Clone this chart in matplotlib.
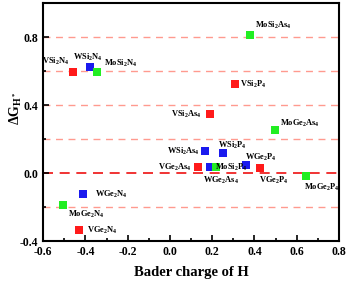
import matplotlib
matplotlib.use("Agg")
import matplotlib.pyplot as plt
from matplotlib.ticker import MultipleLocator

plt.rcParams["font.family"] = ["Liberation Serif", "DejaVu Serif"]
plt.rcParams["font.weight"] = "bold"
plt.rcParams["mathtext.fontset"] = "custom"
plt.rcParams["mathtext.rm"] = "Liberation Serif:bold"
plt.rcParams["mathtext.it"] = "Liberation Serif:bold"
plt.rcParams["mathtext.bf"] = "Liberation Serif:bold"

# compound, Bader charge of H, dG_H*
names = [
    "VSi2N4", "WSi2N4", "MoSi2N4", "MoSi2As4", "VSi2P4", "VSi2As4", "MoGe2As4",
    "WGe2N4", "MoGe2N4", "VGe2N4", "WSi2As4", "WSi2P4", "VGe2As4", "WGe2As4",
    "MoSi2P4", "WGe2P4", "VGe2P4", "MoGe2P4",
]
bader = [
    -0.458, -0.378, -0.345, 0.381, 0.310, 0.188, 0.499,
    -0.411, -0.505, -0.430, 0.164, 0.249, 0.131, 0.188,
    0.216, 0.362, 0.424, 0.645,
]
dg = [
    0.594, 0.624, 0.594, 0.812, 0.524, 0.347, 0.253,
    -0.124, -0.188, -0.335, 0.129, 0.118, 0.035, 0.035,
    0.035, 0.047, 0.030, -0.018,
]
metal = ["V", "W", "Mo", "Mo", "V", "V", "Mo",
         "W", "Mo", "V", "W", "W", "V", "W",
         "Mo", "W", "V", "Mo"]

colors = {"V": "#ff1a1a", "W": "#1a1aee", "Mo": "#22ee22"}

# label offsets (pixels) and horizontal alignment
label_pos = {
    "VSi2N4": (-4, 11, "right"),
    "WSi2N4": (-2, 10, "center"),
    "MoSi2N4": (7, 9, "left"),
    "MoSi2As4": (5, 10, "left"),
    "VSi2P4": (5, 0, "left"),
    "VSi2As4": (-8, 0, "right"),
    "MoGe2As4": (5, 7, "left"),
    "WGe2N4": (12, 0, "left"),
    "MoGe2N4": (5, -9, "left"),
    "VGe2N4": (8, 0, "left"),
    "WSi2As4": (-5, 0, "right"),
    "WSi2P4": (-5, 8, "left"),
    "VGe2As4": (-6, 0, "right"),
    "WGe2As4": (-7, -13, "left"),
    "MoSi2P4": (-1, 0, "left"),
    "WGe2P4": (-1, 8, "left"),
    "VGe2P4": (-1, -12, "left"),
    "MoGe2P4": (-2, -11, "left"),
}


def fmt(name):
    out = ""
    for ch in name:
        out += r"$_{%s}$" % ch if ch.isdigit() else ch
    return out


fig = plt.figure(figsize=(3.48, 2.84), dpi=100)
ax = fig.add_axes([0.124, 0.151, 0.850, 0.838])

for yv in [-0.2, 0.2, 0.4, 0.6, 0.8]:
    ax.axhline(yv, color="#ff9a8f", lw=1.0, ls=(0, (5, 4)), zorder=1)
ax.axhline(0.0, color="#ee1111", lw=1.2, ls=(0, (6, 4)), zorder=1)

for n, x, y, m in zip(names, bader, dg, metal):
    ax.scatter(x, y, marker="s", s=30, color=colors[m], zorder=3, linewidths=0)
    dx, dy, ha = label_pos[n]
    ax.annotate(fmt(n), (x, y), xytext=(dx, dy), textcoords="offset pixels",
                ha=ha, va="center", fontsize=6, fontweight="bold", zorder=4)

ax.set_xlim(-0.6, 0.8)
ax.set_ylim(-0.4, 1.0)
ax.xaxis.set_major_locator(MultipleLocator(0.2))
ax.xaxis.set_minor_locator(MultipleLocator(0.1))
ax.yaxis.set_major_locator(MultipleLocator(0.4))
ax.yaxis.set_minor_locator(MultipleLocator(0.2))
ax.set_yticks([-0.4, 0.0, 0.4, 0.8])
ax.tick_params(which="both", direction="in", labelsize=8.5, width=1.2)
ax.tick_params(which="major", length=4)
ax.tick_params(which="minor", length=2)
ax.xaxis.set_major_formatter(plt.FuncFormatter(lambda v, p: f"{v:.1f}"))
ax.yaxis.set_major_formatter(plt.FuncFormatter(lambda v, p: f"{v:.1f}"))
for sp in ax.spines.values():
    sp.set_linewidth(1.5)

ax.set_xlabel("Bader charge of H", fontsize=10.5, fontweight="bold", labelpad=6)
ax.set_ylabel(r"$\Delta$G$_{H^*}$", fontsize=10, fontweight="bold")
ax.yaxis.set_label_coords(-0.065, 0.56)

fig.savefig("out.png", dpi=100)
